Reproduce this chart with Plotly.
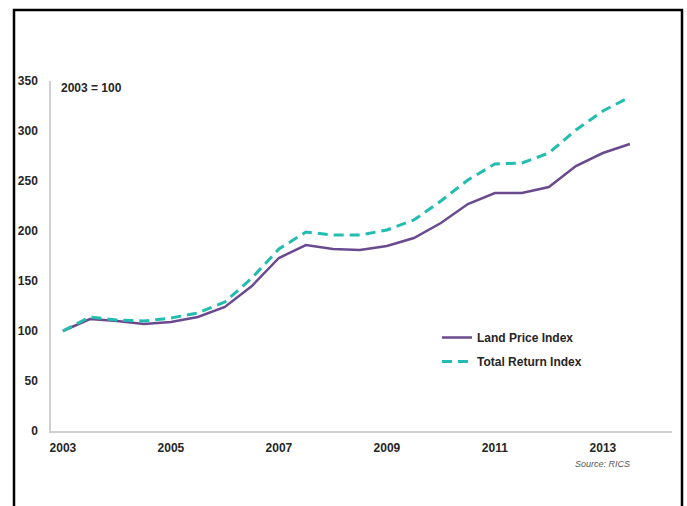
import plotly.graph_objects as go

# Half-yearly observations, 2003 = 100
periods = [2003.0, 2003.5, 2004.0, 2004.5, 2005.0, 2005.5, 2006.0, 2006.5,
           2007.0, 2007.5, 2008.0, 2008.5, 2009.0, 2009.5, 2010.0, 2010.5,
           2011.0, 2011.5, 2012.0, 2012.5, 2013.0, 2013.5]
land_price = [100, 112, 110, 107, 109, 114, 124, 145,
              173, 186, 182, 181, 185, 193, 208, 227,
              238, 238, 244, 265, 278, 287]
total_return = [100, 114, 111, 110, 113, 118, 129, 153,
                182, 199, 196, 196, 201, 211, 230, 251,
                267, 268, 278, 301, 320, 334]
year_ticks = [2003, 2005, 2007, 2009, 2011, 2013]
y_ticks = [0, 50, 100, 150, 200, 250, 300, 350]

W, H = 687, 506
L, R, T, B = 51, 15, 81, 75
pw, ph = W - L - R, H - T - B


def px_x(x):
    return (x - L) / pw


def px_y(y):
    return (H - B - y) / ph


font_main = "Liberation Sans, Arial, sans-serif"
txt_col = "#262626"

fig = go.Figure()
fig.add_trace(go.Scatter(
    x=periods, y=land_price, name="<b>Land Price Index</b>", mode="lines",
    line=dict(color="#6a4a8e", width=2.5), legendgroup="a"))
fig.add_trace(go.Scatter(
    x=periods, y=total_return, name="<b>Total Return Index</b>", mode="lines",
    line=dict(color="#22bdb0", width=3, dash="10px,6px"), legendgroup="b"))

fig.update_layout(
    width=W, height=H,
    margin=dict(l=L, r=R, t=T, b=B),
    paper_bgcolor="white", plot_bgcolor="white",
    font=dict(family=font_main, size=12, color=txt_col),
    showlegend=True,
    legend=dict(x=px_x(437), y=px_y(323), xanchor="left", yanchor="top",
                bgcolor="rgba(0,0,0,0)", borderwidth=0,
                font=dict(size=12, color=txt_col),
                itemwidth=30, tracegroupgap=5, traceorder="grouped"),
    xaxis=dict(range=[2002.78, 2014.28], tickvals=year_ticks,
               ticktext=[f"<b>{y}</b>" for y in year_ticks],
               showgrid=False, zeroline=False, showline=True,
               linecolor="#d0d0d0", linewidth=1.5, ticks="",
               ticklabelstandoff=5, fixedrange=True),
    yaxis=dict(range=[0, 350], tickvals=y_ticks,
               ticktext=[f"<b>{v}</b>" for v in y_ticks],
               showgrid=False, zeroline=False, showline=True,
               linecolor="#d0d0d0", linewidth=1.5, ticks="",
               ticklabelstandoff=9, fixedrange=True),
    shapes=[dict(type="rect", xref="paper", yref="paper",
                 x0=px_x(14), x1=px_x(682), y0=px_y(530), y1=px_y(10),
                 line=dict(color="black", width=2.5), fillcolor="rgba(0,0,0,0)")],
    annotations=[
        dict(text="<b>2003 = 100</b>", xref="paper", yref="paper",
             x=px_x(59), y=px_y(88), xanchor="left", yanchor="middle",
             showarrow=False, font=dict(size=12, color=txt_col)),
        dict(text="<i>Source: RICS</i>", xref="paper", yref="paper",
             x=px_x(632), y=px_y(464), xanchor="right", yanchor="middle",
             showarrow=False, font=dict(size=9, color="#595959")),
    ],
)

fig.write_html("out.html")
